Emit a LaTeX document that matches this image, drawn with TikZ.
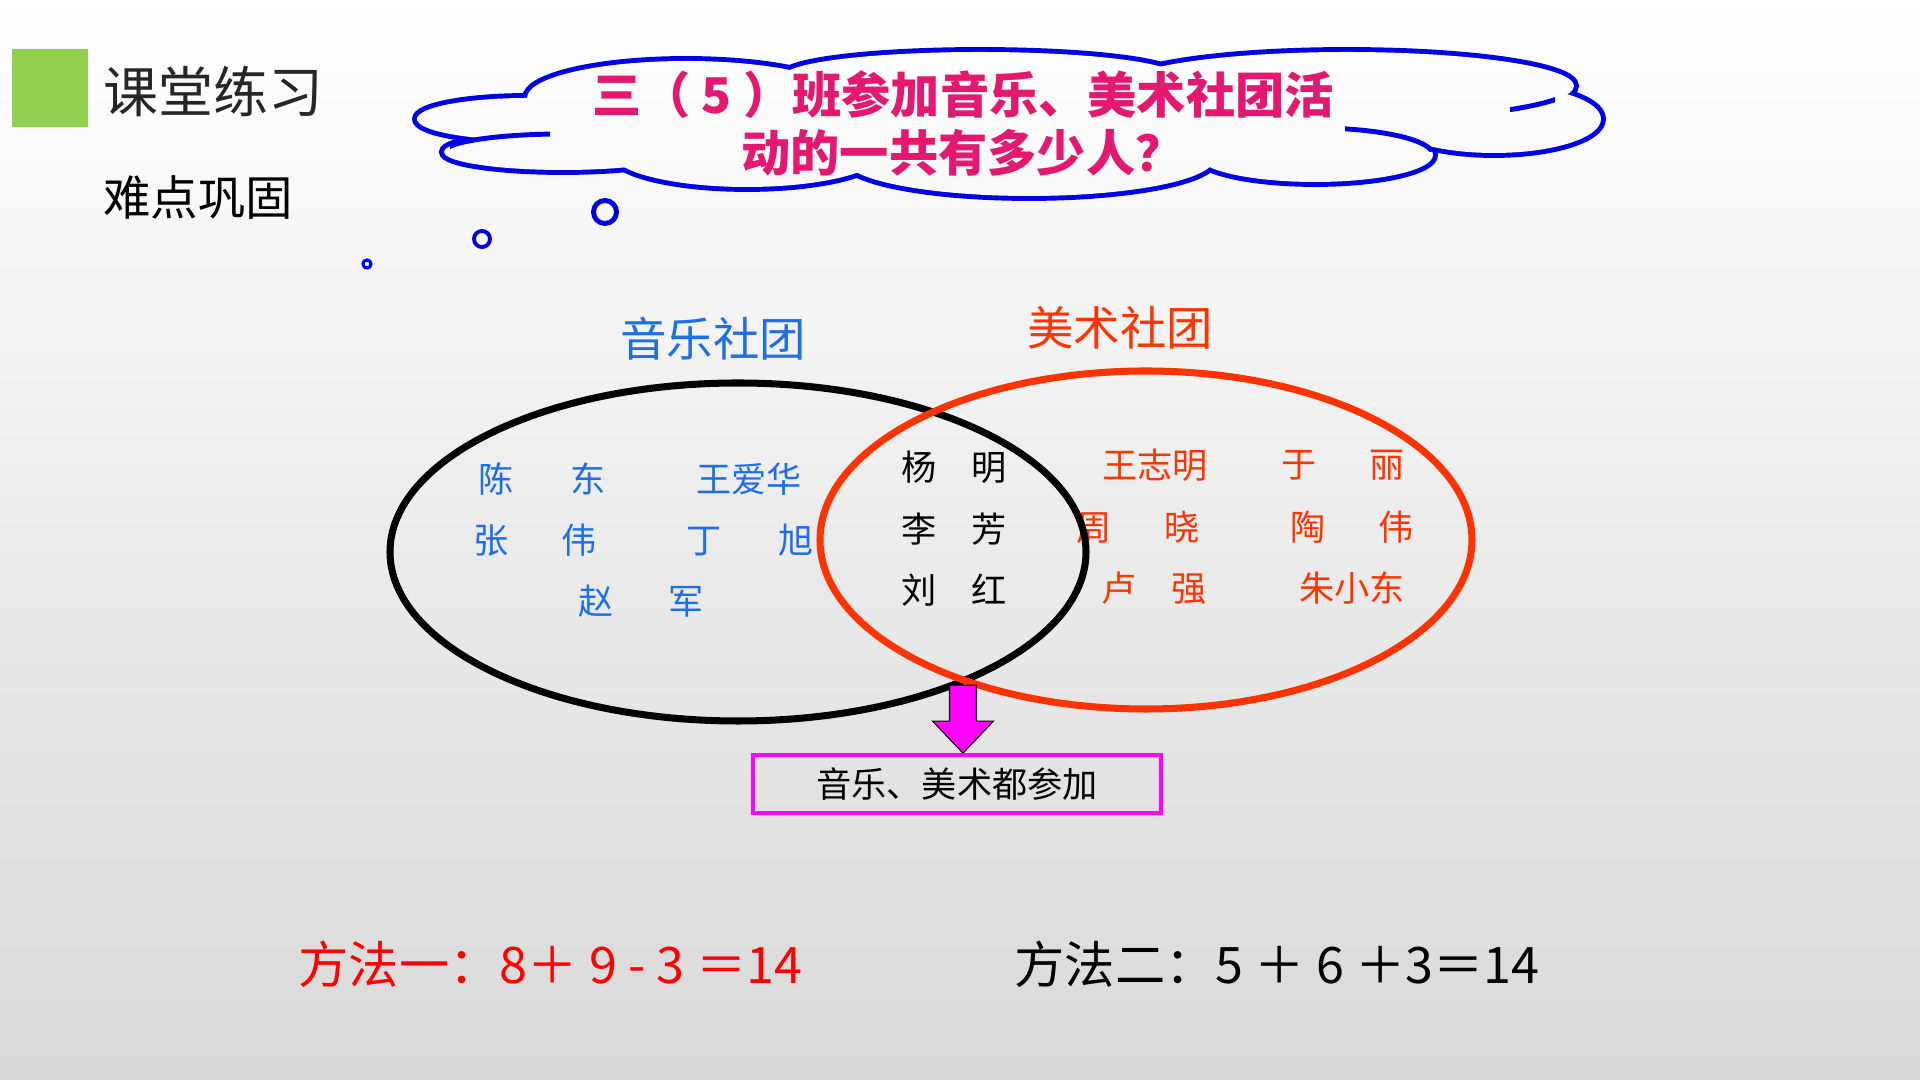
\documentclass[tikz,border=0pt]{standalone}
\usepackage{fontspec}
\usepackage{tikz}
\usetikzlibrary{calc}
\setmainfont{Noto Sans CJK SC}

\definecolor{cloudblue}{RGB}{0,0,230}
\definecolor{questionpink}{RGB}{228,24,110}
\definecolor{musicblue}{RGB}{30,110,230}
\definecolor{artred}{RGB}{255,51,0}
\definecolor{bothmagenta}{RGB}{255,0,255}
\definecolor{markgreen}{RGB}{146,208,80}
\definecolor{titlegray}{RGB}{38,38,38}

% lobes of the thought cloud: x/y/x radius/y radius
\newcommand{\cloudlobes}{527/119/110/21, 563/152/119/18, 686/98/159/37,
  980/76/196/24, 1347/86/227/34, 1494/119/107/34, 1315/155/118/27,
  1029/159/185/37, 747/153/135/34}

\begin{document}
\begin{tikzpicture}[x=0.01cm, y=-0.01cm,
    fsize/.style={font=\fontsize{#1}{#1}\selectfont},
    musicname/.style={fsize=10, text=musicblue},
    bothname/.style={fsize=10, text=black},
    artname/.style={fsize=10, text=artred}]
  \useasboundingbox (0,0) rectangle (1920,1080);

  % Background
  \shade[top color=white, bottom color=black!15] (0,0) rectangle (1920,1080);

  % Title
  \fill[markgreen] (12,49) rectangle (88,127);
  \node[anchor=west, fsize=15.6, text=titlegray] (title) at (91,92) {课堂练习};
  \node[anchor=west, fsize=13.5] (subtitle) at (91,198) {难点巩固};

  % Draw the thought cloud
  \foreach \cx/\cy/\rx/\ry in \cloudlobes
    \draw[cloudblue, line width=2.8pt] (\cx,\cy) ellipse [x radius=\rx, y radius=\ry];
  \foreach \cx/\cy/\rx/\ry in \cloudlobes {
    \begin{scope}
      \clip (\cx,\cy) ellipse [x radius=\rx, y radius=\ry];
      \shade[top color=white, bottom color=black!15] (0,0) rectangle (1920,1080);
    \end{scope}
  }
  % fill the middle of the cloud
  \begin{scope}
    \clip (1000,125) ellipse [x radius=520, y radius=35];
    \shade[top color=white, bottom color=black!15] (0,0) rectangle (1920,1080);
  \end{scope}
  % little inner tails of the lobes
  \begin{scope}
    \clip (450,125) rectangle (550,150);
    \draw[cloudblue, line width=1.4pt] (563,152) ellipse [x radius=119, y radius=18];
  \end{scope}
  \begin{scope}
    \clip (1345,118) rectangle (1445,152);
    \draw[cloudblue, line width=1.4pt] (1315,155) ellipse [x radius=118, y radius=27];
  \end{scope}
  \begin{scope}
    \clip (1510,95) rectangle (1555,118);
    \draw[cloudblue, line width=1.4pt] (1347,86) ellipse [x radius=227, y radius=34];
  \end{scope}
  \node[font=\fontsize{14}{16.5}\selectfont\bfseries, text=questionpink, align=center] (question) at (963,123)
    {三（ 5 ）班参加音乐、美术社团活\\动的一共有多少人？};

  % Small bubbles
  \draw[cloudblue, line width=1.4pt] (605,212) circle [radius=11.5];
  \draw[cloudblue, line width=1.1pt] (482,239) circle [radius=8];
  \draw[cloudblue, line width=0.9pt] (367,264) circle [radius=4];

  % Group labels
  \node[fsize=13.2, text=musicblue] (music) at (713,339) {音乐社团};
  \node[fsize=13.2, text=artred] (art) at (1120,328) {美术社团};

  % Names in the music group only
  \node[musicname] (chendong) at (542,479) {陈\hspace{1.6em}东};
  \node[musicname] (wangaihua) at (749,479) {王爱华};
  \node[musicname] (zhangwei) at (535,540) {张\hspace{1.5em}伟};
  \node[musicname] (dingxu) at (750,540) {丁\hspace{1.6em}旭};
  \node[musicname] (zhaojun) at (641,601) {赵\hspace{1.55em}军};

  % Names in both groups
  \node[bothname] (yangming) at (954,467) {杨\hspace{1em}明};
  \node[bothname] (lifang) at (954,529) {李\hspace{1em}芳};
  \node[bothname] (liuhong) at (954,590) {刘\hspace{1em}红};

  % Names in the art group only
  \node[artname] (wangzhiming) at (1155,465) {王志明};
  \node[artname] (yuli) at (1343,465) {于\hspace{1.5em}丽};
  \node[artname] (zhouxiao) at (1138,527) {周\hspace{1.5em}晓};
  \node[artname] (taowei) at (1352,527) {陶\hspace{1.5em}伟};
  \node[artname] (luqiang) at (1154,588) {卢\hspace{1em}强};
  \node[artname] (zhuxiaodong) at (1352,588) {朱小东};

  % Draw the two groups
  \draw[black, line width=2pt] (738,552) ellipse [x radius=348, y radius=169];
  \draw[artred, line width=2pt] (1146,540) ellipse [x radius=326, y radius=169];

  % Box for the overlap
  \node[draw=bothmagenta, line width=1.05pt, minimum width=4.08cm, minimum height=0.58cm,
        fsize=10] (both) at (957,784) {音乐、美术都参加};
  \coordinate (tip) at ($(both.north)+(6,0)$);
  \filldraw[fill=bothmagenta, draw=black, line width=0.3pt]
    ($(tip)+(-13.5,-68)$) -- ($(tip)+(13.5,-68)$) -- ($(tip)+(13.5,-32)$)
    -- ($(tip)+(30.5,-32)$) -- (tip) -- ($(tip)+(-30.5,-32)$)
    -- ($(tip)+(-13.5,-32)$) -- cycle;

  % Two ways to count
  \node[anchor=west, fsize=14.3, text=red] (way1) at (286,964) {方法一：8＋ 9 - 3 ＝14};
  \node[anchor=west, fsize=14.3] (way2) at (1002,964) {方法二：5 ＋ 6 ＋3＝14};
\end{tikzpicture}
\end{document}
